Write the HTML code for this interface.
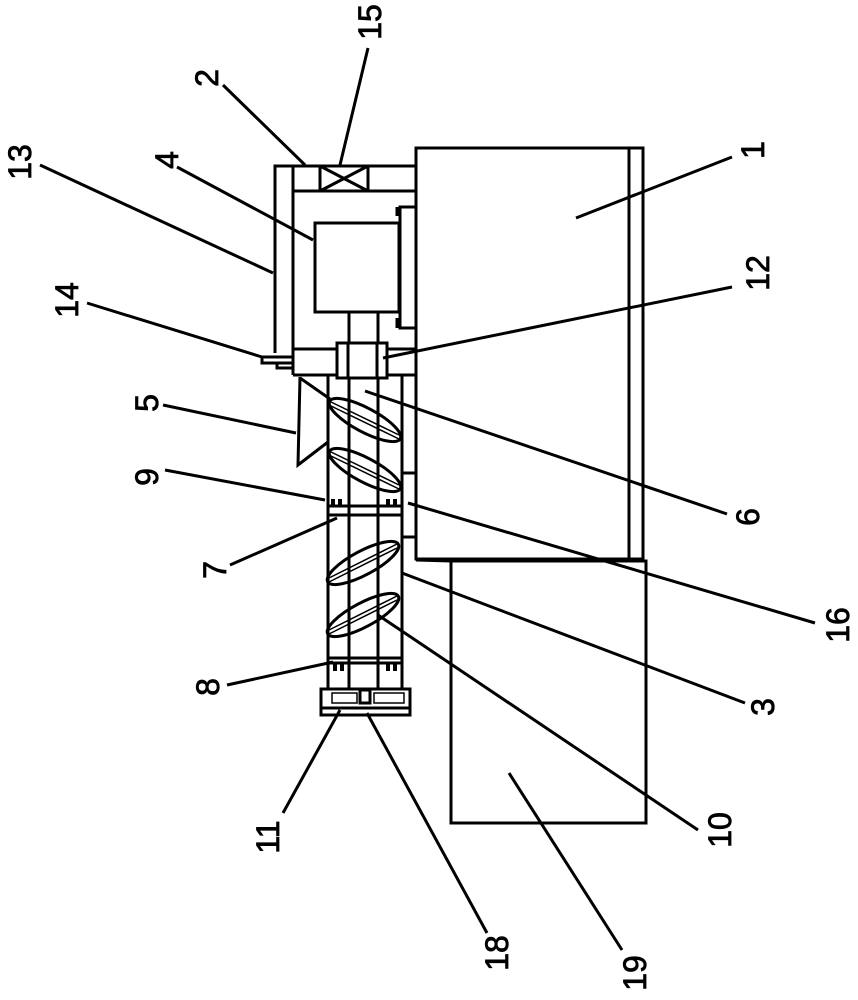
<!DOCTYPE html>
<html><head><meta charset="utf-8"><style>html,body{margin:0;padding:0;background:#fff}svg{display:block}</style></head>
<body>
<svg width="858" height="1000" viewBox="0 0 858 1000" xmlns="http://www.w3.org/2000/svg">
<g fill="none" stroke="#000" stroke-width="3">
<!-- box 1 -->
<rect x="416" y="148" width="227" height="411"/>
<line x1="629" y1="148" x2="629" y2="559"/>
<!-- box 19 -->
<rect x="451" y="561" width="195" height="262"/>
<!-- housing -->
<polyline points="275,353 275,166 416,166"/>
<line x1="293" y1="166" x2="293" y2="375"/>
<line x1="293" y1="191" x2="416" y2="191"/>
<rect x="320" y="166" width="48" height="25"/>
<line x1="320" y1="166" x2="368" y2="191"/>
<line x1="368" y1="166" x2="320" y2="191"/>
<!-- motor -->
<rect x="315" y="223" width="84" height="89"/>
<rect x="400" y="207" width="16" height="121"/>
<line x1="397" y1="207" x2="397" y2="216"/>
<line x1="397" y1="318" x2="397" y2="328"/>
<!-- plate -->
<line x1="293" y1="349" x2="416" y2="349"/>
<line x1="293" y1="375" x2="416" y2="375"/>
<!-- tab 14 -->
<rect x="262" y="357" width="31" height="6"/>
<rect x="277" y="363" width="16" height="5"/>
<!-- shaft -->
<line x1="349" y1="312" x2="349" y2="688"/>
<line x1="378" y1="312" x2="378" y2="688"/>
<!-- coupling -->
<rect x="337" y="343" width="50" height="35" fill="#fff"/>
<line x1="348" y1="343" x2="348" y2="378"/>
<line x1="377" y1="343" x2="377" y2="378"/>
<!-- hopper -->
<polyline points="300,377 298,465 328,442"/>
<line x1="300" y1="378" x2="330" y2="399"/>
<!-- tube -->
<line x1="328" y1="375" x2="328" y2="689"/>
<line x1="402" y1="375" x2="402" y2="689"/>
<line x1="416" y1="148" x2="416" y2="560"/>
<line x1="402" y1="473" x2="416" y2="473"/>
<line x1="402" y1="537" x2="416" y2="537"/>
<line x1="416" y1="560" x2="451" y2="561"/>
<!-- plates -->
<rect x="328" y="506" width="74" height="9"/>
<rect x="328" y="658" width="74" height="5"/>
<!-- flights -->
<g>
<ellipse cx="365" cy="420" rx="40" ry="12" transform="rotate(28 365 420)"/>
<line x1="331" y1="404" x2="399" y2="437" stroke-width="1.5" transform="translate(0 -2)"/>
<line x1="331" y1="404" x2="399" y2="437" stroke-width="1.5" transform="translate(0 2)"/>
<ellipse cx="365" cy="470" rx="40" ry="12" transform="rotate(28 365 470)"/>
<line x1="331" y1="454" x2="399" y2="487" stroke-width="1.5" transform="translate(0 -2)"/>
<line x1="331" y1="454" x2="399" y2="487" stroke-width="1.5" transform="translate(0 2)"/>
<ellipse cx="363" cy="563" rx="40" ry="12" transform="rotate(-28 363 563)"/>
<line x1="329" y1="580" x2="397" y2="546" stroke-width="1.5" transform="translate(0 -2)"/>
<line x1="329" y1="580" x2="397" y2="546" stroke-width="1.5" transform="translate(0 2)"/>
<ellipse cx="363" cy="615" rx="40" ry="12" transform="rotate(-28 363 615)"/>
<line x1="329" y1="632" x2="397" y2="598" stroke-width="1.5" transform="translate(0 -2)"/>
<line x1="329" y1="632" x2="397" y2="598" stroke-width="1.5" transform="translate(0 2)"/>
</g>
<!-- end cap -->
<rect x="321" y="689" width="89" height="26"/>
<line x1="321" y1="708" x2="410" y2="708"/>
<rect x="360" y="690" width="10" height="13"/>
<rect x="332" y="693" width="25" height="10" stroke-width="1.5"/>
<rect x="374" y="693" width="30" height="10" stroke-width="1.5"/>
<!-- leaders -->
<g stroke-width="3">
<line x1="40" y1="165" x2="273" y2="273"/>
<line x1="223" y1="85" x2="305" y2="165"/>
<line x1="368" y1="48" x2="340" y2="165"/>
<line x1="177" y1="167" x2="313" y2="240"/>
<line x1="87" y1="303" x2="262" y2="357"/>
<line x1="163" y1="405" x2="296" y2="433"/>
<line x1="165" y1="470" x2="325" y2="500"/>
<line x1="230" y1="565" x2="337" y2="518"/>
<line x1="227" y1="685" x2="333" y2="662"/>
<line x1="283" y1="813" x2="340" y2="710"/>
<line x1="367" y1="713" x2="487" y2="933"/>
<line x1="509" y1="773" x2="622" y2="950"/>
<line x1="378" y1="615" x2="698" y2="830"/>
<line x1="402" y1="573" x2="745" y2="703"/>
<line x1="408" y1="503" x2="815" y2="623"/>
<line x1="365" y1="391" x2="727" y2="514"/>
<line x1="383" y1="358" x2="732" y2="287"/>
<line x1="576" y1="218" x2="732" y2="157"/>
</g>
</g>
<!-- bolts -->
<g fill="#000">
<rect x="331" y="499" width="4" height="7"/><rect x="338" y="499" width="4" height="7"/>
<rect x="386" y="499" width="4" height="7"/><rect x="393" y="499" width="4" height="7"/>
<rect x="333" y="664" width="4" height="7"/><rect x="340" y="664" width="4" height="7"/>
<rect x="386" y="664" width="4" height="7"/><rect x="393" y="664" width="4" height="7"/>
</g>
<g font-family="Liberation Sans, sans-serif" font-size="32" fill="#000" stroke="#000" stroke-width="0.8" text-anchor="middle" dominant-baseline="central">
<text transform="translate(20 162) rotate(-90)">13</text>
<text transform="translate(207 78) rotate(-90)">2</text>
<text transform="translate(370 22) rotate(-90)">15</text>
<text transform="translate(167 160) rotate(-90)">4</text>
<text transform="translate(67 300) rotate(-90)">14</text>
<text transform="translate(147 403) rotate(-90)">5</text>
<text transform="translate(147 477) rotate(-90)">9</text>
<text transform="translate(215 570) rotate(-90)">7</text>
<text transform="translate(208 687) rotate(-90)">8</text>
<text transform="translate(268 837) rotate(-90)">11</text>
<text transform="translate(497 953) rotate(-90)">18</text>
<text transform="translate(635 973) rotate(-90)">19</text>
<text transform="translate(720 830) rotate(-90)">10</text>
<text transform="translate(763 707) rotate(-90)">3</text>
<text transform="translate(838 625) rotate(-90)">16</text>
<text transform="translate(748 517) rotate(-90)">6</text>
<text transform="translate(758 273) rotate(-90)">12</text>
<text transform="translate(753 150) rotate(-90)">1</text>
</g>
</svg>
</body></html>
